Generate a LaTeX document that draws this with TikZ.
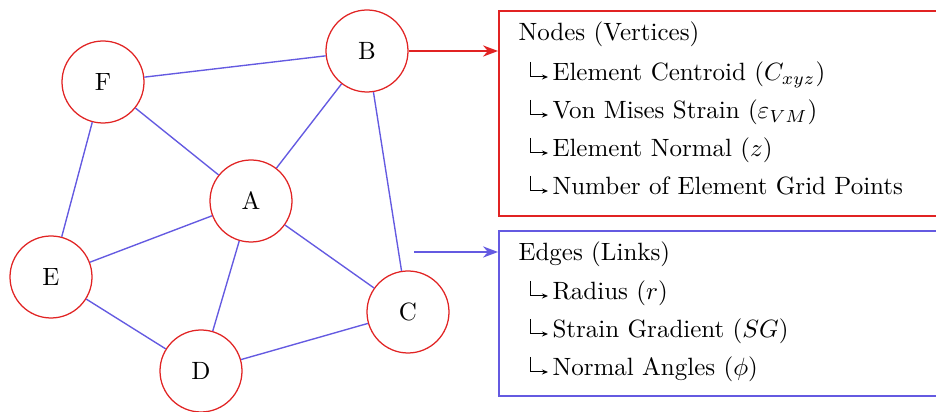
\documentclass[tikz,border=0pt]{standalone}
\usetikzlibrary{arrows.meta}
\definecolor{cred}{RGB}{225,35,35}
\definecolor{cblue}{RGB}{100,90,225}
\begin{document}
\begin{tikzpicture}[x=0.4pt,y=-0.4pt,
  vert/.style={circle,draw=cred,line width=0.5pt,minimum size=32.8pt,inner sep=0pt,fill=white,font=\normalsize},
  link/.style={draw=cblue,line width=0.55pt},
  info/.style={anchor=base west,inner sep=0pt},
  ell/.style={draw=black,line width=0.4pt,-{Stealth[length=2.4pt,width=2pt]}},
  pointer/.style={line width=0.6pt,-{Stealth[length=6pt,width=4.5pt]}}]
\useasboundingbox (0,0) rectangle (936,412);
\clip (0,0) rectangle (936,412);
% vertices
\node[vert] (F) at (103,82) {F};
\node[vert] (B) at (367,51) {B};
\node[vert] (A) at (251,201) {A};
\node[vert] (E) at (51,277) {E};
\node[vert] (D) at (201,371) {D};
\node[vert] (C) at (408,312) {C};
% edges
\draw[link] (F) -- (B);
\draw[link] (F) -- (A);
\draw[link] (F) -- (E);
\draw[link] (B) -- (A);
\draw[link] (B) -- (C);
\draw[link] (A) -- (E);
\draw[link] (A) -- (D);
\draw[link] (A) -- (C);
\draw[link] (E) -- (D);
\draw[link] (D) -- (C);
% boxes
\node[draw=cred,line width=0.8pt,anchor=north west,minimum width=178pt,minimum height=82pt,inner sep=0pt] (nbox) at (498,10) {};
\node[draw=cblue,line width=0.8pt,anchor=north west,minimum width=178pt,minimum height=66pt,inner sep=0pt] (ebox) at (498,230) {};
% pointers
\draw[pointer,cred] (B.east) -- (B.east -| nbox.west);
\coordinate (es) at (414,252);
\draw[pointer,cblue] (es) -- (es -| ebox.west);
% node attributes
\node[info] (nh) at (518,41) {Nodes (Vertices)};
\node[info] (n1) at (552,81) {Element Centroid ($C_{xyz}$)};
\node[info] (n2) at (552,119) {Von Mises Strain ($\varepsilon_{VM}$)};
\node[info] (n3) at (552,157) {Element Normal ($z$)};
\node[info] (n4) at (552,195) {Number of Element Grid Points};
\foreach \n in {n1,n2,n3,n4}
  \draw[ell] (\n.base west) ++(-22,-19) |- ++(18,15);
% edge attributes
\node[info] (eh) at (518,261) {Edges (Links)};
\node[info] (e1) at (552,300) {Radius ($r$)};
\node[info] (e2) at (552,338) {Strain Gradient ($SG$)};
\node[info] (e3) at (552,376) {Normal Angles ($\phi$)};
\foreach \n in {e1,e2,e3}
  \draw[ell] (\n.base west) ++(-22,-19) |- ++(18,15);
\end{tikzpicture}
\end{document}
